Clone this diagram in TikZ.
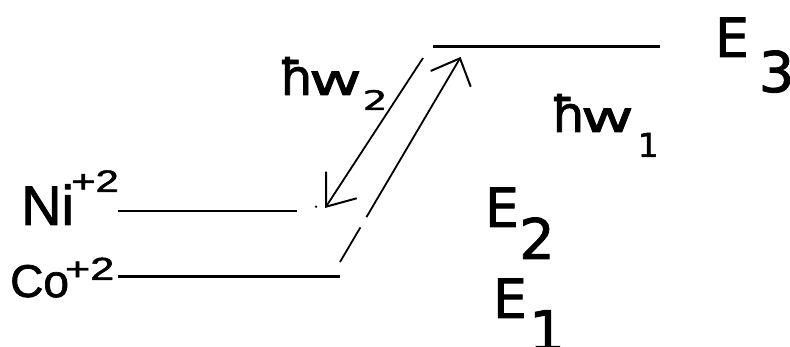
\documentclass[tikz,border=0pt]{standalone}
\usepackage{fontspec}
\setmainfont{Liberation Sans}[FakeBold=1.5]
\newfontfamily\dv{DejaVu Sans}[FakeBold=1.5]
\usetikzlibrary{calc}
\newcommand{\fs}[1]{\fontsize{#1}{#1}\selectfont}
\begin{document}
\begin{tikzpicture}[x=1pt,y=-1pt,
  level/.style={line width=2.4pt},
  shaft/.style={line width=1.8pt},
  barb/.style={line width=2pt},
  lbl/.style={inner sep=0pt,anchor=base west}]
\useasboundingbox (0,0) rectangle (790,347);
% levels
\coordinate (e3a) at (433,46.7); \coordinate (e3b) at (660,46.7);
\coordinate (nia) at (118,211);  \coordinate (nib) at (297,211);
\coordinate (coa) at (118,276.7);\coordinate (cob) at (340,276.7);
\draw[level] (e3a) -- (e3b);
\draw[level] (nia) -- (nib);
\draw[level] (coa) -- (cob);
% down arrow (hw2)
\coordinate (dS) at (423,58); \coordinate (dT) at (326,206.7);
\coordinate (dB1) at (326,171.7); \coordinate (dB2) at (356.7,198.3);
\draw[shaft] (dS) -- (dT);
\draw[barb] (dB1) -- (dT) -- (dB2);
\coordinate (dot) at (316,206.7);
\fill (dot) circle (1.3pt);
% up arrow (hw1)
\coordinate (uS) at (340,262); \coordinate (uT) at (460,58.3);
\coordinate (uB1) at (430.7,71); \coordinate (uB2) at (470.7,86.7);
\draw[shaft] (uS) -- ($(uS)!0.17!(uT)$);
\draw[shaft] ($(uS)!0.22!(uT)$) -- (uT);
\draw[barb] (uB1) -- (uT) -- (uB2);
% labels
\node[lbl] (ni) at (21,225) {\fs{56}Ni\kern-3pt\raisebox{33pt}{\fs{31}\scalebox{1.35}[1]{+2}}};
\node[lbl] (co) at (10,297) {\fs{46}Co\kern-4pt\raisebox{17pt}{\fs{32}\scalebox{1.35}[1]{+2}}};
\node[lbl,font=\dv] (hw2) at (279,95) {{\fs{50}ħ}\kern-5pt\scalebox{1.5}[1]{\fs{43}w}\kern1pt\raisebox{-15pt}{\fs{27}\scalebox{1.45}[1]{2}}};
\node[lbl,font=\dv] (hw1) at (551,132) {{\fs{50}ħ}\kern-5pt\scalebox{1.5}[1]{\fs{43}w}\kern4pt\raisebox{-25pt}{\fs{33}1}};
\node[lbl,font=\dv] (E3) at (714.7,57) {\fs{54}E};
\node[lbl,font=\dv] (E3s) at (758.5,92) {\fs{56}3};
\node[lbl,font=\dv] (E2) at (484.7,227) {\fs{54}E};
\node[lbl,font=\dv] (E2s) at (519,259) {\fs{56}2};
\node[lbl,font=\dv] (E1) at (492.7,318) {\fs{54}E};
\node[lbl,font=\dv] (E1s) at (529,351) {\fs{56}1};
\end{tikzpicture}
\end{document}
